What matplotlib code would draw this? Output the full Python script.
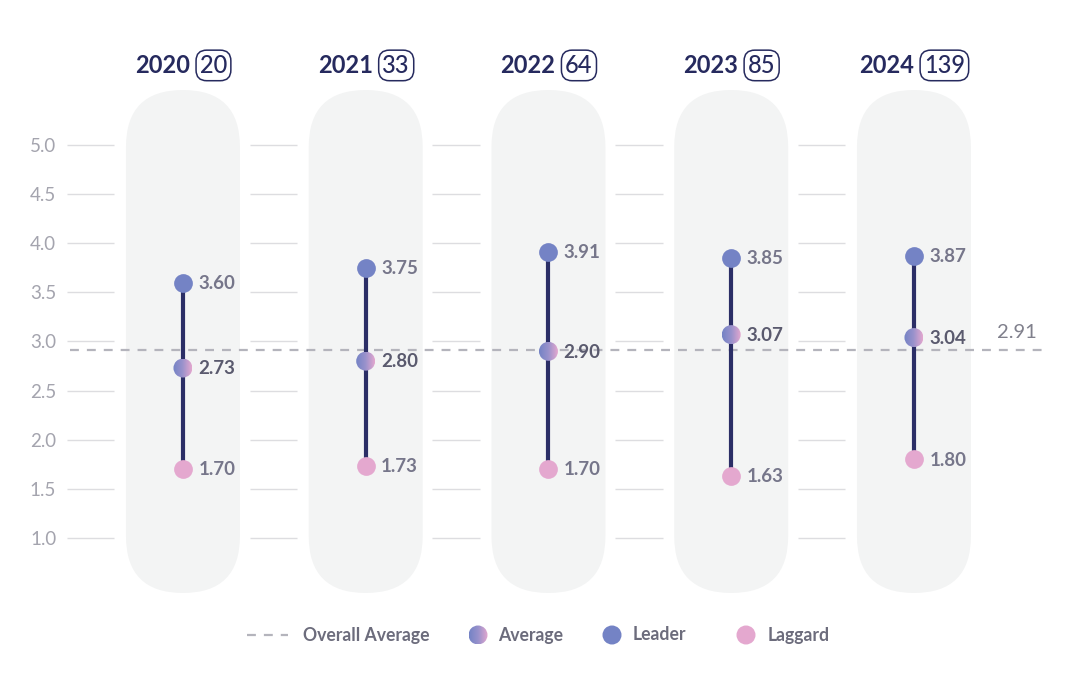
import matplotlib
matplotlib.use("Agg")
import matplotlib.pyplot as plt
import numpy as np
from matplotlib.patches import FancyBboxPatch, Ellipse, Circle
from matplotlib.colors import LinearSegmentedColormap

# ---------------- data ----------------
years = ["2020", "2021", "2022", "2023", "2024"]
counts = [20, 33, 64, 85, 139]
leader = [3.60, 3.75, 3.91, 3.85, 3.87]
average = [2.73, 2.80, 2.90, 3.07, 3.04]
laggard = [1.70, 1.73, 1.70, 1.63, 1.80]
overall_avg = 2.91
yticks = [1.0, 1.5, 2.0, 2.5, 3.0, 3.5, 4.0, 4.5, 5.0]
legend_labels = ["Overall Average", "Average", "Leader", "Laggard"]

# ---------------- style ----------------
FONT = ["Lato", "DejaVu Sans"]
plt.rcParams["font.family"] = FONT
NAVY = "#262a5e"
LINE_NAVY = "#2b2e66"
LEADER_C = "#7483c5"
LAGGARD_C = "#e4a8cf"
PILL_C = "#f3f4f4"
GRID_C = "#dddde0"
DASH_C = "#b4b4bc"
LABEL_C = "#76768a"
AVG_LABEL_C = "#5a5a6e"
TICK_C = "#a4a4ae"

W, H = 1066, 688
fig = plt.figure(figsize=(W / 100, H / 100), dpi=100)
fig.patch.set_facecolor("white")
ax = fig.add_axes([66 / W, 0, 1 - 66 / W, 1])
XL = (-0.640, 4.832)
YL = (-0.527, 6.476)
ax.set_xlim(*XL)
ax.set_ylim(*YL)
for s in ax.spines.values():
    s.set_visible(False)
ax.set_xticks([])
ax.set_yticks(yticks)
ax.set_yticklabels([f"{t:.1f}" for t in yticks])
ax.tick_params(axis="y", length=0, pad=7, labelsize=13.5, labelcolor=TICK_C)

px_x = W * (1 - 66 / W) / (XL[1] - XL[0])
px_y = H / (YL[1] - YL[0])
aspect = px_x / px_y

x = np.arange(len(years))

# pills
half_w = 57 / px_x
for xi in x:
    pill = FancyBboxPatch((xi - half_w, 0.44), 2 * half_w, 5.12,
                          boxstyle=f"round,pad=0,rounding_size={half_w}",
                          mutation_aspect=aspect, fc=PILL_C, ec="none", zorder=0)
    ax.add_patch(pill)

# broken gridlines (between pills)
for xi in x:
    ax.hlines(yticks, xi - 0.635, xi - 0.375, colors=GRID_C, lw=1.0, zorder=1)

# overall average dashed line
ax.hlines(overall_avg, -0.618, 4.717, colors=DASH_C, lw=1.6,
          linestyles=[(0, (4, 3.6))], zorder=2)
ax.annotate(f"{overall_avg:.2f}", (4.673, overall_avg), xytext=(0, 13),
            textcoords="offset points", ha="right", va="center",
            fontsize=14.5, color="#80808c")

# range lines
ax.vlines(x, laggard, leader, colors=LINE_NAVY, lw=3.0, zorder=3)

# leader / laggard markers
ax.plot(x, leader, "o", ms=13.5, color=LEADER_C, mec="none", zorder=4)
ax.plot(x, laggard, "o", ms=13.5, color=LAGGARD_C, mec="none", zorder=4)

# average gradient markers
cmap = LinearSegmentedColormap.from_list("g", [LEADER_C, "#9a92cc", LAGGARD_C])
grad = np.linspace(0, 1, 256).reshape(1, -1)
rw = 9.5 / px_x
rh = 9.5 / px_y
for xi, v in zip(x, average):
    ell = Ellipse((xi, v), 2 * rw, 2 * rh, fc="none", ec="none", zorder=4)
    ax.add_patch(ell)
    im = ax.imshow(grad, cmap=cmap, extent=[xi - rw, xi + rw, v - rh, v + rh],
                   aspect="auto", zorder=4, interpolation="antialiased")
    im.set_clip_path(ell)
ax.set_xlim(*XL)
ax.set_ylim(*YL)

# value labels
for xi, a, b, c in zip(x, leader, average, laggard):
    for v, col in ((a, LABEL_C), (b, AVG_LABEL_C), (c, LABEL_C)):
        ax.annotate(f"{v:.2f}", (xi, v), xytext=(11, -0.5), textcoords="offset points",
                    ha="left", va="center", fontsize=13.5, fontweight="bold",
                    color=col, zorder=5)

# headers: year + count box, centered on the column
head_y = 5.81
HFS = 17
ytxts, ctxts = [], []
PAD = 0.16
for xi, yr, cnt in zip(x, years, counts):
    t1 = ax.text(xi, head_y, yr, ha="left", va="center", fontsize=HFS,
                 fontweight="bold", color=NAVY)
    t2 = ax.text(xi, head_y, str(cnt), ha="left", va="center", fontsize=HFS,
                 fontweight="medium", color=NAVY,
                 bbox=dict(boxstyle=f"round,pad={PAD},rounding_size=0.45",
                           fc="none", ec=NAVY, lw=1.1))
    ytxts.append(t1)
    ctxts.append(t2)
fig.canvas.draw()
r = fig.canvas.get_renderer()
pad_px = PAD * HFS * 100 / 72
gap_px = 6
for xi, t1, t2 in zip(x, ytxts, ctxts):
    w1 = t1.get_window_extent(r).width
    w2 = t2.get_window_extent(r).width + 2 * pad_px
    total = w1 + gap_px + w2
    start = xi - (total / 2) / px_x
    t1.set_x(start)
    t2.set_x(start + (w1 + gap_px + pad_px) / px_x)

# legend (overlay in pixel space)
lax = fig.add_axes([0, 0, 1, 1], zorder=5)
lax.set_xlim(0, W)
lax.set_ylim(H, 0)
lax.axis("off")
ly = 635
lax.plot([247, 288], [ly, ly], color=DASH_C, lw=1.6, ls=(0, (4, 3.6)))
lfs = dict(fontsize=12.7, fontweight="bold", color="#6c6c7c", va="center", ha="left")
lax.text(303, ly, legend_labels[0], **lfs)
circ = Circle((478, ly), 9.5, fc="none", ec="none")
lax.add_patch(circ)
im = lax.imshow(grad, cmap=cmap, extent=[468.5, 487.5, ly + 9.5, ly - 9.5],
                aspect="auto", interpolation="antialiased")
im.set_clip_path(circ)
lax.text(498, ly, legend_labels[1], **lfs)
lax.add_patch(Circle((612, ly), 9.5, fc=LEADER_C, ec="none"))
lax.text(633, ly, legend_labels[2], **lfs)
lax.add_patch(Circle((746, ly), 9.5, fc=LAGGARD_C, ec="none"))
lax.text(768, ly, legend_labels[3], **lfs)
lax.set_xlim(0, W)
lax.set_ylim(H, 0)

fig.savefig("out.png", dpi=100, facecolor="white")
